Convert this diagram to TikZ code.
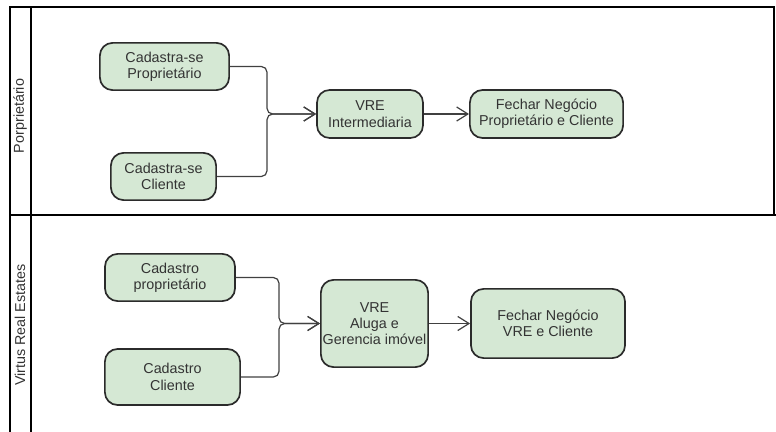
\documentclass[tikz,border=0pt]{standalone}
\usepackage{fontspec}
\setmainfont{Liberation Sans}
\usepackage{xcolor}
\usetikzlibrary{arrows.meta}

\definecolor{boxfill}{HTML}{D5E8D4}
\definecolor{boxline}{HTML}{2B2B2B}
\definecolor{txt}{HTML}{333333}

\tikzset{
  step box/.style={draw=boxline, fill=boxfill, line width=1.2pt, rounded corners=9pt,
    align=center, inner sep=0pt, text=txt,
    font=\fontsize{10.2}{11.6}\selectfont},
  link/.style={draw=black!75, line width=0.85pt, rounded corners=4pt,
    -{Straight Barb[length=8pt,width=10pt]}},
  lane/.style={line width=1.5pt, black}
}

\begin{document}
\begin{tikzpicture}[x=0.025cm, y=-0.025cm]
\useasboundingbox (0,0) rectangle (776,432);

\draw[lane] (10,7) rectangle (774,215); %top lane
\draw[lane] (10,215) -- (10,432); %bottom lane, left side
\draw[lane] (31,7) -- (31,432); %label stripe
\draw[lane] (10,215) -- (776,215); %lane divider

\node[rotate=90, text=txt, font=\fontsize{10.2}{11.6}\selectfont] (lane1) at (20,116) {Porprietário};
\node[rotate=90, text=txt, font=\fontsize{10.2}{11.6}\selectfont] (lane2) at (20,325) {Virtus Real Estates};

% lane 1
\node[step box, minimum width=3.23cm, minimum height=1.18cm] (cadprop) at (164.5,66.5) {Cadastra-se\\Proprietário};
\node[step box, minimum width=2.63cm, minimum height=1.18cm] (cadcli) at (163.5,176.5) {Cadastra-se\\Cliente};
\node[step box, minimum width=2.65cm, minimum height=1.2cm] (vreint) at (370,114) {VRE\\Intermediaria};
\node[step box, minimum width=3.83cm, minimum height=1.2cm] (fechar1) at (546.5,114) {Fechar Negócio\\Proprietário e Cliente};

\coordinate (join1) at (267,114);
\draw[link] (cadprop.east) -| (join1) -- (vreint.west);
\draw[link] (cadcli.east) -| (join1) -- (vreint.west);
\draw[link] (vreint.east) -- (fechar1.west);

% lane 2
\node[step box, minimum width=3.25cm, minimum height=1.18cm] (cadastroprop) at (170,277.5) {Cadastro\\proprietário};
\node[step box, minimum width=3.38cm, minimum height=1.4cm] (cadastrocli) at (172.5,377) {Cadastro\\Cliente};
\node[step box, minimum width=2.68cm, minimum height=2.18cm] (vrealuga) at (374.5,323.5) {VRE\\Aluga e\\Gerencia imóvel};
\node[step box, minimum width=3.85cm, minimum height=1.73cm] (fechar2) at (548,323.5) {Fechar Negócio\\VRE e Cliente};

\coordinate (join2) at (279,323.5);
\draw[link] (cadastroprop.east) -| (join2) -- (vrealuga.west);
\draw[link] (cadastrocli.east) -| (join2) -- (vrealuga.west);
\draw[link] (vrealuga.east) -- (fechar2.west);

\end{tikzpicture}
\end{document}
